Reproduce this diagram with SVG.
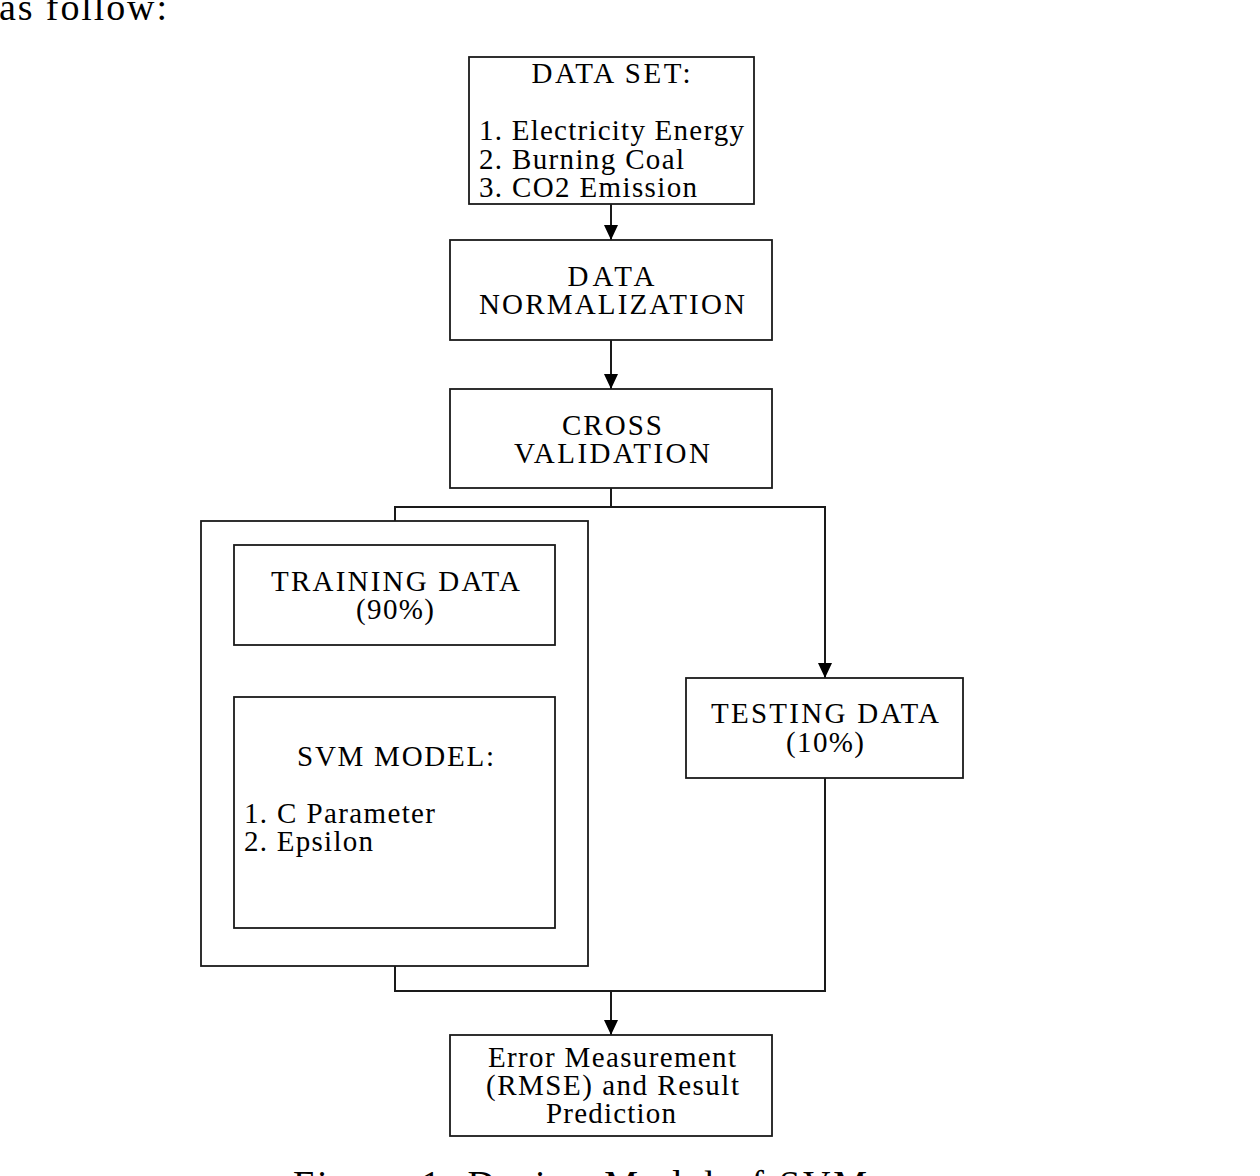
<svg xmlns="http://www.w3.org/2000/svg" width="1260" height="1176" viewBox="0 0 1260 1176">
<defs>
<style>
.box{fill:#fff;stroke:#1a1a1a;stroke-width:1.8}
.t{font-family:"Liberation Serif","Times New Roman",serif;font-size:29px;fill:#000}
.c{text-anchor:middle}
.ln{fill:none;stroke:#1a1a1a;stroke-width:2}
.big{font-family:"Liberation Serif","Times New Roman",serif;font-size:38px;fill:#000}
</style>
<marker id="ah" markerUnits="userSpaceOnUse" markerWidth="14" markerHeight="15" refX="15" refY="7" orient="auto">
<path d="M0,0 L15,7 L0,14 z" fill="#000"/>
</marker>
</defs>
<rect width="1260" height="1176" fill="#fff"/>
<text class="big" x="-1" y="20" textLength="168" lengthAdjust="spacing">as follow:</text>
<text class="big" x="293" y="1197" textLength="574" lengthAdjust="spacing">Figure 1. Design Model of SVM</text>

<g id="connectors">
<line class="ln" x1="611" y1="204" x2="611" y2="240" marker-end="url(#ah)"/>
<line class="ln" x1="611" y1="340" x2="611" y2="389" marker-end="url(#ah)"/>
<polyline class="ln" points="611,488 611,507 395,507 395,521"/>
<polyline class="ln" points="611,507 825,507 825,678" marker-end="url(#ah)"/>
<line class="ln" x1="395" y1="645" x2="395" y2="697" marker-end="url(#ah)"/>
<polyline class="ln" points="395,928 395,991 825,991 825,778"/>
<line class="ln" x1="611" y1="991" x2="611" y2="1035" marker-end="url(#ah)"/>
</g>

<g id="dataset">
<rect class="box" x="469" y="57" width="285" height="147"/>
<text class="t c" x="611" y="83" textLength="159" lengthAdjust="spacing">DATA SET:</text>
<text class="t" x="479" y="140" textLength="265" lengthAdjust="spacing">1. Electricity Energy</text>
<text class="t" x="479" y="168.5" textLength="205" lengthAdjust="spacing">2. Burning Coal</text>
<text class="t" x="479" y="197" textLength="218" lengthAdjust="spacing">3. CO2 Emission</text>
</g>

<g id="normalization">
<rect class="box" x="450" y="240" width="322" height="100"/>
<text class="t c" x="611" y="286" textLength="87" lengthAdjust="spacing">DATA</text>
<text class="t c" x="612" y="314" textLength="266" lengthAdjust="spacing">NORMALIZATION</text>
</g>

<g id="crossval">
<rect class="box" x="450" y="389" width="322" height="99"/>
<text class="t c" x="612" y="435" textLength="100" lengthAdjust="spacing">CROSS</text>
<text class="t c" x="612" y="463" textLength="196" lengthAdjust="spacing">VALIDATION</text>
</g>

<g id="training-group">
<rect class="box" x="201" y="521" width="387" height="445" fill="none"/>
</g>

<g id="training">
<rect class="box" x="234" y="545" width="321" height="100"/>
<text class="t c" x="395.5" y="591" textLength="249" lengthAdjust="spacing">TRAINING DATA</text>
<text class="t c" x="395" y="619" textLength="78" lengthAdjust="spacing">(90%)</text>
</g>

<g id="svm">
<rect class="box" x="234" y="697" width="321" height="231"/>
<text class="t c" x="395.5" y="766" textLength="197" lengthAdjust="spacing">SVM MODEL:</text>
<text class="t" x="244" y="823" textLength="191" lengthAdjust="spacing">1. C Parameter</text>
<text class="t" x="244" y="851" textLength="129" lengthAdjust="spacing">2. Epsilon</text>
</g>

<g id="testing">
<rect class="box" x="686" y="678" width="277" height="100"/>
<text class="t c" x="825" y="723" textLength="228" lengthAdjust="spacing">TESTING DATA</text>
<text class="t c" x="825" y="752" textLength="78" lengthAdjust="spacing">(10%)</text>
</g>

<g id="result">
<rect class="box" x="450" y="1035" width="322" height="101"/>
<text class="t c" x="612" y="1067" textLength="248" lengthAdjust="spacing">Error Measurement</text>
<text class="t c" x="612.5" y="1095" textLength="253" lengthAdjust="spacing">(RMSE) and Result</text>
<text class="t c" x="611" y="1123" textLength="130" lengthAdjust="spacing">Prediction</text>
</g>
</svg>
